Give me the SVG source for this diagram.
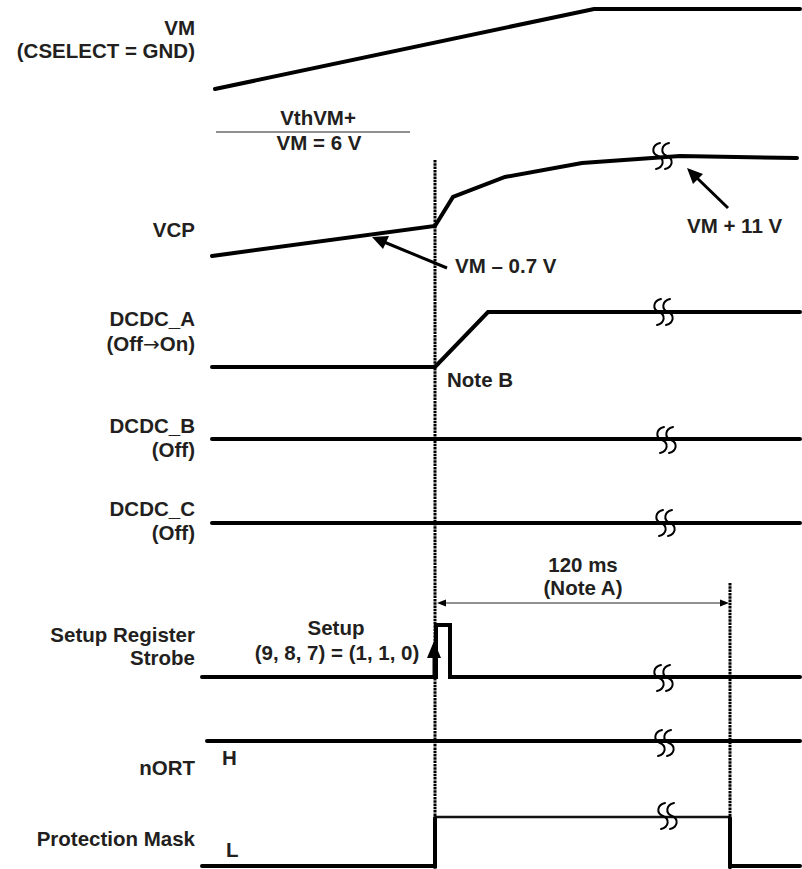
<svg xmlns="http://www.w3.org/2000/svg" width="802" height="869" viewBox="0 0 802 869">
<style>
.lbl{font-family:"Liberation Sans",Arial,sans-serif;font-weight:bold;font-size:20.5px;fill:#231f20}
.r{text-anchor:end}
.m{text-anchor:middle}
.sig{fill:none;stroke:#000;stroke-width:4;stroke-linejoin:miter;stroke-linecap:round}
.thin{fill:none;stroke:#111;stroke-width:2.6}
.dot{fill:none;stroke:#000;stroke-width:3;stroke-dasharray:2.5 0.8}
.brk{fill:none;stroke:#000;stroke-width:2;stroke-linecap:round}
.dim{fill:none;stroke:#6d6d6d;stroke-width:1.6}
.ann{fill:none;stroke:#000;stroke-width:3}
.sym{font-family:"DejaVu Sans",sans-serif;font-weight:normal}
</style>
<defs>
<g id="brk">
<path class="brk" d="M1,-13 C-7,-11 -8,-3 -1,0 C6,3 5,11 -3,13"/>
<path class="brk" d="M10,-13 C2,-11 1,-3 8,0 C15,3 14,11 6,13"/>
</g>
</defs>

<g id="vm">
<text class="lbl r" x="195" y="35">VM</text>
<text class="lbl r" x="195" y="58">(CSELECT = GND)</text>
<polyline class="sig" points="215,89 594,9 800,9"/>
</g>

<g id="vthvm">
<text class="lbl m" x="318" y="125">VthVM+</text>
<line x1="216" y1="132" x2="410" y2="132" stroke="#231f20" stroke-width="1"/>
<text class="lbl m" x="319" y="150">VM = 6 V</text>
</g>

<g id="vcp">
<text class="lbl r" x="195" y="237">VCP</text>
<polyline class="sig" points="212,256 435,226 453,197 505,177 582,163 680,156 797,158"/>
<use href="#brk" x="659" y="156"/>
</g>

<g id="dcdc_a">
<text class="lbl r" x="195" y="326">DCDC_A</text>
<text class="lbl r" x="195" y="351">(Off<tspan class="sym" font-size="20">→</tspan>On)</text>
<polyline class="sig" points="212,367 435,367 488,312 800,312"/>
<use href="#brk" x="660" y="312"/>
<text class="lbl" x="447" y="387">Note B</text>
</g>

<g id="dcdc_b">
<text class="lbl r" x="195" y="433">DCDC_B</text>
<text class="lbl r" x="195" y="457">(Off)</text>
<line class="sig" x1="212" y1="439" x2="800" y2="439"/>
<use href="#brk" x="663" y="440"/>
</g>

<g id="dcdc_c">
<text class="lbl r" x="195" y="516">DCDC_C</text>
<text class="lbl r" x="195" y="540">(Off)</text>
<line class="sig" x1="212" y1="523" x2="800" y2="523"/>
<use href="#brk" x="662" y="523"/>
</g>

<g id="strobe">
<text class="lbl r" x="195" y="642">Setup Register</text>
<text class="lbl r" x="195" y="665">Strobe</text>
<text class="lbl m" x="336" y="635">Setup</text>
<text class="lbl m" x="337" y="660">(9, 8, 7) = (1, 1, 0)</text>
<polyline class="sig" points="202,677 436,677 436,625 450,625 450,677 800,677"/>
<use href="#brk" x="660" y="678"/>
</g>

<g id="nort">
<text class="lbl r" x="195" y="775">nORT</text>
<text class="lbl" x="222" y="765">H</text>
<line class="sig" x1="207" y1="741" x2="800" y2="741"/>
<use href="#brk" x="661" y="743"/>
</g>

<g id="protmask">
<text class="lbl r" x="195" y="846">Protection Mask</text>
<text class="lbl" x="226" y="857">L</text>
<polyline class="sig" points="202,866 435,866 435,818"/>
<line class="thin" x1="435" y1="817" x2="730" y2="817"/>
<polyline class="sig" points="730,818 730,866 800,866"/>
<use href="#brk" x="664" y="816"/>
</g>

<g id="timing120">
<text class="lbl m" x="583" y="572">120 ms</text>
<text class="lbl m" x="583" y="595">(Note A)</text>
</g>

<g id="connectors">
<line class="dot" x1="435" y1="160" x2="435" y2="869"/>
<line class="dot" x1="730" y1="583" x2="730" y2="869"/>
<line class="dim" x1="444" y1="603" x2="722" y2="603"/>
<path d="M437,603 L446,599.5 L446,606.5 z" fill="#000"/>
<path d="M729,603 L720,599.5 L720,606.5 z" fill="#000"/>
<line class="ann" x1="447" y1="268" x2="384" y2="242"/>
<path d="M372,237 L389,236 L383,249 z" fill="#000"/>
<text class="lbl" x="455" y="273">VM – 0.7 V</text>
<line class="ann" x1="728" y1="208" x2="695" y2="176"/>
<path d="M687,168 L703,174 L693,184 z" fill="#000"/>
<text class="lbl" x="687" y="233">VM + 11 V</text>
<line x1="434" y1="676" x2="434" y2="654" stroke="#000" stroke-width="3"/>
<path d="M434,641 L441,658 L427,658 z" fill="#000"/>
</g>
</svg>
